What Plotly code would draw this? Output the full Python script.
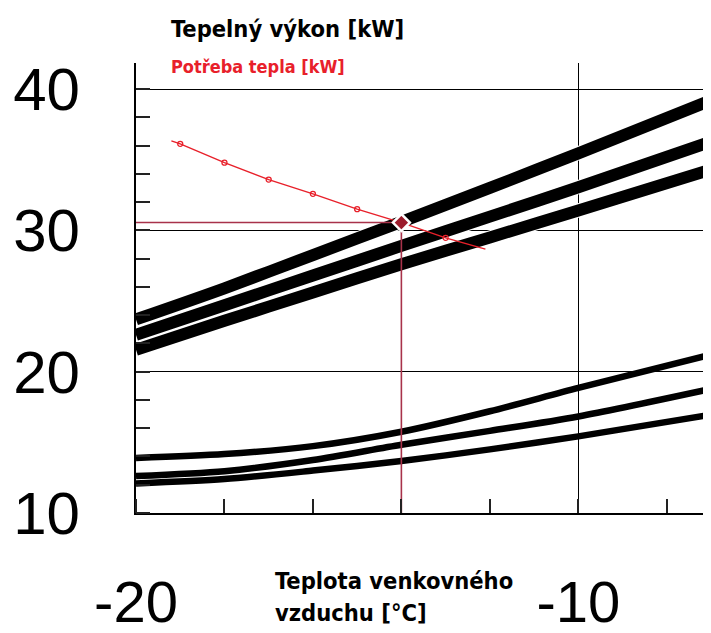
import plotly.graph_objects as go

# ---- data ----
temp_x = [-20, -18, -16, -14, -12, -10, -7]
upper_top = [23.7, 25.9, 28.25, 30.6, 33.0, 35.45, 39.2]
upper_mid = [22.6, 24.7, 26.8, 28.9, 30.97, 33.05, 36.28]
upper_bot = [21.55, 23.6, 25.6, 27.6, 29.5, 31.4, 34.3]
lower_top = [13.9, 14.17, 14.73, 15.75, 17.2, 18.85, 21.2]
lower_mid = [12.62, 12.96, 13.75, 14.83, 15.81, 16.83, 18.78]
lower_bot = [12.09, 12.40, 13.0, 13.68, 14.5, 15.42, 16.95]

demand_x = [-19.2, -19, -18, -17, -16, -15, -14, -13, -12.1]
demand_y = [36.33, 36.12, 34.79, 33.59, 32.58, 31.50, 30.55, 29.47, 28.67]
demand_mark_x = [-19, -18, -17, -16, -15, -13]
demand_mark_y = [36.12, 34.79, 33.59, 32.58, 31.50, 29.47]

op_x = -14
op_y = 30.55

x_ticks = [-20, -10]
y_ticks = [10, 20, 30, 40]

title_text = "Tepelný výkon [kW]"
demand_text = "Potřeba tepla [kW]"
xtitle_line1 = "Teplota venkovného"
xtitle_line2 = "vzduchu [°C]"

BLACK = "#000000"
RED = "#e8202a"
DARKRED = "#a8324a"
COND = "Liberation Sans Narrow, DejaVu Sans Condensed, Arial Narrow, sans-serif"

fig = go.Figure()

# thick upper curves (white border then black)
for ys in [upper_bot, upper_mid, upper_top]:
    fig.add_trace(go.Scatter(x=temp_x, y=ys, mode="lines", line=dict(color="white", width=14, shape="spline", smoothing=0.8),
                             hoverinfo="skip", showlegend=False))
    fig.add_trace(go.Scatter(x=temp_x, y=ys, mode="lines", line=dict(color=BLACK, width=12, shape="spline", smoothing=0.8),
                             showlegend=False))

# thinner lower curves
for ys in [lower_bot, lower_mid, lower_top]:
    fig.add_trace(go.Scatter(x=temp_x, y=ys, mode="lines", line=dict(color=BLACK, width=6.5, shape="spline", smoothing=0.8),
                             showlegend=False))

# guide lines to operating point
fig.add_trace(go.Scatter(x=[x_ticks[0], op_x], y=[op_y, op_y], mode="lines",
                         line=dict(color=DARKRED, width=1.6), showlegend=False))
fig.add_trace(go.Scatter(x=[op_x, op_x], y=[y_ticks[0], op_y], mode="lines",
                         line=dict(color=DARKRED, width=1.6), showlegend=False))

# demand line
fig.add_trace(go.Scatter(x=demand_x, y=demand_y, mode="lines", line=dict(color=RED, width=1.4),
                         showlegend=False))
fig.add_trace(go.Scatter(x=demand_mark_x, y=demand_mark_y, mode="markers",
                         marker=dict(symbol="circle-open", size=5, color=RED, line=dict(width=1.3, color=RED)),
                         showlegend=False))

# operating point
fig.add_trace(go.Scatter(x=[op_x], y=[op_y], mode="markers",
                         marker=dict(symbol="diamond", size=13, color="#9b1c2c",
                                     line=dict(width=2.5, color="white")),
                         showlegend=False))

# page body has an 8px margin: figure is 703x625 so it fits the 711x633 window
fig.update_layout(
    width=703, height=625,
    margin=dict(l=128, r=0, t=55, b=120, autoexpand=False),
    paper_bgcolor="white", plot_bgcolor="white",
    showlegend=False,
    xaxis=dict(range=[-20, -7], tickvals=x_ticks, ticktext=[str(v) for v in x_ticks],
               automargin=False,
               showgrid=True, gridcolor=BLACK, gridwidth=1.2,
               showline=True, linecolor=BLACK, linewidth=2.2,
               ticks="", zeroline=False,
               tickfont=dict(family="Liberation Sans, Arial, sans-serif", size=58, color=BLACK),
               ticklabelstandoff=37,
               minor=dict(dtick=2, tick0=-20, ticks="inside", ticklen=14, tickwidth=1.5,
                          tickcolor="#222222", showgrid=False)),
    yaxis=dict(range=[10, 41.84], tickvals=y_ticks, ticktext=[str(v) for v in y_ticks],
               automargin=False,
               showgrid=True, gridcolor=BLACK, gridwidth=1.2,
               showline=True, linecolor=BLACK, linewidth=2.2,
               ticks="", zeroline=False,
               tickfont=dict(family="Liberation Sans, Arial, sans-serif", size=60, color=BLACK),
               ticklabelstandoff=42,
               minor=dict(dtick=2, tick0=10, ticks="inside", ticklen=14, tickwidth=1.5,
                          tickcolor="#222222", showgrid=False)),
    annotations=[
        dict(text="<b>" + title_text + "</b>", xref="paper", yref="paper",
             x=(169 - 136) / 575, y=1 + (63 - 29) / 450, xanchor="left", yanchor="middle",
             showarrow=False, font=dict(family=COND, size=23.5, color=BLACK)),
        dict(text="<b>" + demand_text + "</b>", xref="paper", yref="paper",
             x=(169 - 136) / 575, y=1 + (63 - 67) / 450, xanchor="left", yanchor="middle",
             showarrow=False, font=dict(family=COND, size=18, color=RED)),
        dict(text="<b>" + xtitle_line1 + "</b>", xref="paper", yref="paper",
             x=(273 - 136) / 575, y=-(581 - 513.3) / 450, xanchor="left", yanchor="middle",
             showarrow=False, font=dict(family=COND, size=23.5, color=BLACK)),
        dict(text="<b>" + xtitle_line2 + "</b>", xref="paper", yref="paper",
             x=(273 - 136) / 575, y=-(613 - 513.3) / 450, xanchor="left", yanchor="middle",
             showarrow=False, font=dict(family=COND, size=23.5, color=BLACK)),
    ],
)

fig.write_html("out.html")
